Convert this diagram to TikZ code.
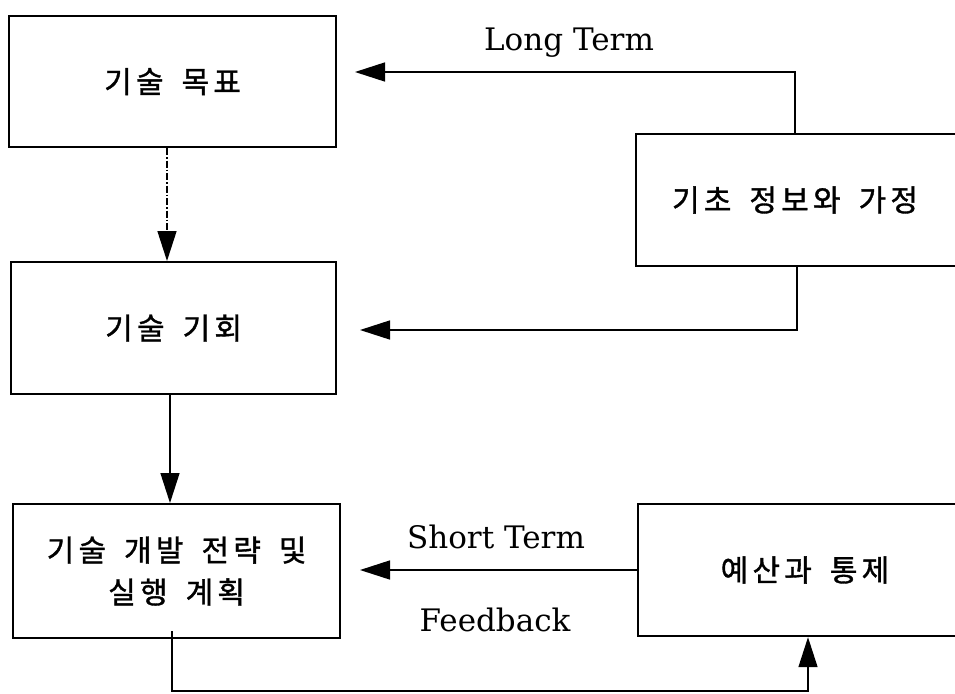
\documentclass[tikz,border=0pt]{standalone}
\usepackage{fontspec}
\newfontfamily\kr[LetterSpace=14,FakeBold=1.2]{Noto Sans CJK KR}
\newfontfamily\lat{DejaVu Serif}
\newcommand{\ksp}{\hspace{0.6em}}
\usetikzlibrary{arrows.meta}
\begin{document}
\begin{tikzpicture}[x=1pt,y=-1pt,
  box/.style={draw, line width=2.2pt, inner sep=0pt, anchor=north west},
  lbl/.style={font=\kr\fontsize{30}{42}\selectfont, align=center, inner sep=0pt},
  eng/.style={font=\lat\fontsize{31}{34}\selectfont, inner sep=0pt},
  link/.style={line width=1.5pt, -{Triangle[length=30pt,width=19pt]}}]
\useasboundingbox (0,0) rectangle (955,693);
% left column
\node[box, minimum width=327pt, minimum height=131pt] (goal) at (8,15) {};
\node[box, minimum width=325pt, minimum height=132pt] (opp) at (10,261) {};
\node[box, minimum width=327pt, minimum height=134pt] (plan) at (12,503) {};
% right column (runs past the right edge)
\node[box, minimum width=330pt, minimum height=132pt] (info) at (635,133) {};
\node[box, minimum width=330pt, minimum height=132pt] (budget) at (637,503) {};
% texts
\node[lbl] at (goal.center) {기술\ksp 목표};
\node[lbl] at (opp.center) {기술\ksp 기회};
\node[lbl] at (plan.center) {기술\ksp 개발\ksp 전략\ksp 및\\실행\ksp 계획};
\node[lbl] at (795,200) {기초\ksp 정보와\ksp 가정};
\node[lbl] at (805,570) {예산과\ksp 통제};
\node[eng] (lt) at (569,43) {Long Term};
\node[eng] (st) at (496,537) {Short Term};
\node[eng] (fb) at (495,620) {Feedback};
% connector corners
\coordinate (c1) at (795,72);
\coordinate (t1) at (355,72);
\coordinate (c2) at (797,330);
\coordinate (t2) at (360,330);
\coordinate (t3) at (360,570);
\coordinate (f1) at (172,691);
\coordinate (f2) at (808,691);
% connectors
\draw[link, dash pattern=on 7pt off 2pt on 1.5pt off 2pt] (goal.south -| 167,0) -- (opp.north -| 167,0);
\draw[link] (opp.south -| 170,0) -- (plan.north -| 170,0);
\draw[link] (info.north -| c1) -- (c1) -- (t1);
\draw[link] (info.south -| c2) -- (c2) -- (t2);
\draw[link] (budget.west |- t3) -- (t3);
\draw[link] ([yshift=8pt]plan.south -| f1) -- (f1) -- (f2) -- (budget.south -| f2);
\end{tikzpicture}
\end{document}
